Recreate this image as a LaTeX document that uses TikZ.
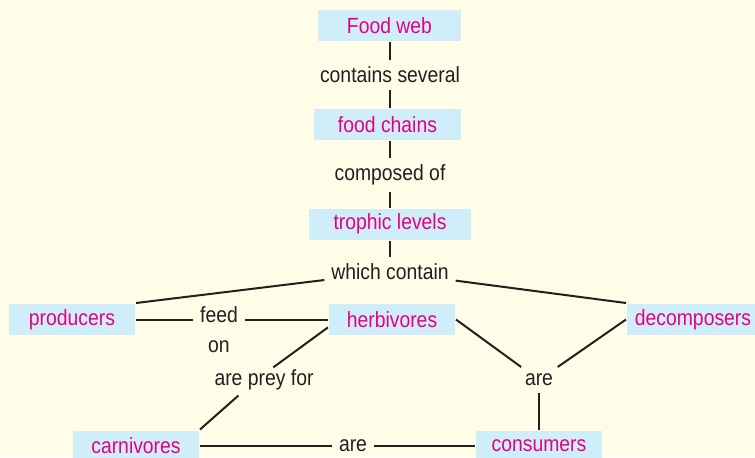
\documentclass[tikz,border=0pt]{standalone}
\usepackage{fontspec}
\setmainfont{Liberation Sans}[FakeStretch=0.88]
\usetikzlibrary{calc}
\definecolor{bgyellow}{RGB}{255,253,231}
\definecolor{boxblue}{RGB}{208,237,250}
\definecolor{termpink}{RGB}{230,0,126}
\definecolor{inkblack}{RGB}{35,31,32}

\begin{document}
\begin{tikzpicture}[x=0.5pt, y=-0.5pt, line width=1pt,
    term/.style={fill=boxblue, text=termpink, minimum height=15.5pt, inner sep=0pt,
        font=\fontsize{11}{15}\selectfont},
    link/.style={text=inkblack, inner sep=3pt, align=center,
        font=\fontsize{11}{15}\selectfont}]
    % 背景
    \fill[bgyellow] (0,0) rectangle (755,457);
    \useasboundingbox (0,0) rectangle (755,457);

    % 概念框
    \node[term, minimum width=71.5pt] (web) at (389.5,25.5) {Food web};
    \node[term, minimum width=73.5pt] (chains) at (387.5,124.5) {food chains};
    \node[term, minimum width=81pt] (levels) at (390,224) {trophic levels};
    \node[term, minimum width=63pt] (prod) at (72,319.5) {producers};
    \node[term, minimum width=63pt] (herb) at (392,319.5) {herbivores};
    \node[term, minimum width=66pt] (decomp) at (693,319.5) {decomposers};
    \node[term, minimum width=63pt] (carn) at (136,446) {carnivores};
    \node[term, minimum width=63pt] (cons) at (539,446) {consumers};

    % 连接词
    \node[link] (contains) at (390,75) {contains several};
    \node[link] (composed) at (390,175) {composed of};
    \node[link] (which) at (390,272) {which contain};
    \node[link] (feed) at (219,330) {feed\\on};
    \node[link] (prey) at (264,380) {are prey for};
    \node[link] (areR) at (539,380) {are};
    \node[link] (areB) at (353,446) {are};
    \coordinate (preyhub) at (256,380);

    % 竖直主干
    \draw[inkblack] (contains.north |- web.south) -- (contains.north);
    \draw[inkblack] (contains.south) -- (contains.south |- chains.north);
    \draw[inkblack] (composed.north |- chains.south) -- (composed.north);
    \draw[inkblack] (composed.south) -- (composed.south |- levels.north);
    \draw[inkblack] (which.north |- levels.south) -- (which.north);

    % 第二层连线
    \draw[inkblack] (which) -- (prod.north east);
    \draw[inkblack] (which) -- (decomp.north west);
    \draw[inkblack] (prod.east) -- (prod.east -| feed.west);
    \draw[inkblack] (herb.west) -- (herb.west -| feed.east);
    \draw[inkblack, shorten >=10.7pt] (herb.187) -- (preyhub);
    \draw[inkblack, shorten <=11.7pt] (preyhub) -- (carn.north east);
    \draw[inkblack] (herb.east) -- (areR);
    \draw[inkblack] (decomp.west) -- (areR);
    \draw[inkblack] (areR) -- (cons);
    \draw[inkblack] (carn) -- (areB) -- (cons);
\end{tikzpicture}
\end{document}
